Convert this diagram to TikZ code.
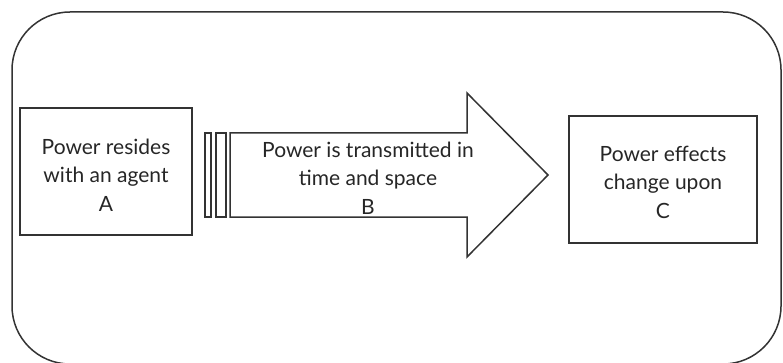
\documentclass[tikz,border=0pt]{standalone}
\usepackage{fontspec}
\setmainfont{Lato}
\begin{document}
\begin{tikzpicture}[x=1pt,y=-1pt,
  ln/.style={draw=black!80, line width=1.5pt},
  box/.style={ln, rectangle, align=center, inner sep=0pt},
  txt/.style={align=center, font=\fontsize{21}{28.5}\selectfont, text=black!85}]
\useasboundingbox (0,0) rectangle (783,363);
% outer frame
\draw[ln, rounded corners=58pt] (12,12) rectangle (781,364);
% box A
\node[box, minimum width=172pt, minimum height=127pt] (A) at (106,171.5) {};
\node[txt] (At) at (106,175) {Power resides\\with an agent\\A};
% bars
\draw[ln, line width=1.2pt] (205,133) rectangle (211,217);
\draw[ln, line width=1.2pt] (216,133) rectangle (226,217);
% arrow
\draw[ln] (230,133) -- (467,133) -- (467,93) -- (548,175) -- (467,257) -- (467,217) -- (230,217) -- cycle;
\node[txt] (Bt) at (368,178) {Power is transmitted in\\time and space\\B};
% box C
\node[box, minimum width=188pt, minimum height=127pt] (C) at (663,179.5) {};
\node[txt] (Ct) at (663,182) {Power effects\\change upon\\C};
\end{tikzpicture}
\end{document}
